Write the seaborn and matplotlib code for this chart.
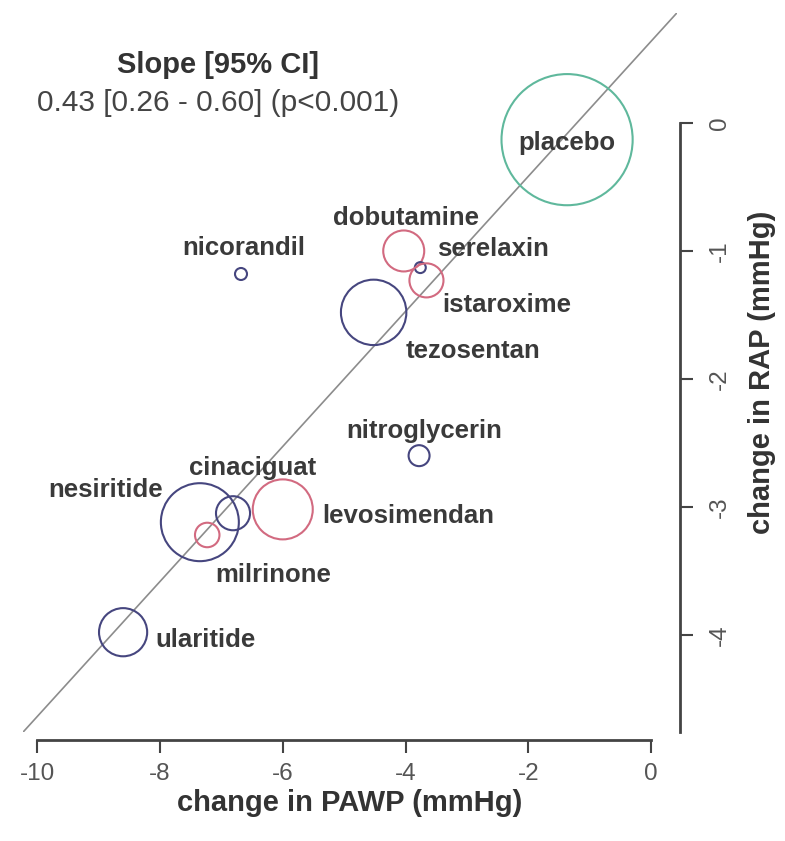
import pandas as pd
import matplotlib
matplotlib.use('Agg')
import matplotlib.pyplot as plt
import seaborn as sbn

# Data
drugs = ['placebo', 'dobutamine', 'serelaxin', 'istaroxime', 'tezosentan', 'nicorandil',
         'nitroglycerin', 'cinaciguat', 'nesiritide', 'milrinone', 'levosimendan', 'ularitide']
d_pawp = [-1.37, -4.03, -3.76, -3.66, -4.52, -6.68, -3.78, -6.81, -7.35, -7.23, -6.0, -8.6]
d_rap = [-0.13, -1.0, -1.13, -1.23, -1.48, -1.18, -2.6, -3.05, -3.12, -3.22, -3.02, -3.98]
group = ['placebo', 'inotrope', 'vasodilator', 'inotrope', 'vasodilator', 'vasodilator',
         'vasodilator', 'vasodilator', 'vasodilator', 'inotrope', 'inotrope', 'vasodilator']
weight = [4300, 420, 30, 290, 1070, 36, 110, 290, 1520, 150, 900, 580]

fit_slope = 0.528
fit_intercept = 0.64

df = pd.DataFrame({'drug': drugs, 'PAWP': d_pawp, 'RAP': d_rap, 'group': group, 'weight': weight})

palette = {'placebo': '#5fb89c', 'inotrope': '#d26a80', 'vasodilator': '#46467f'}

# label offsets in pixels (dx, dy up), alignment
label_pos = {
    'placebo': (0, -3, 'center'),
    'dobutamine': (2, 33, 'center'),
    'serelaxin': (17, 19, 'left'),
    'istaroxime': (16, -25, 'left'),
    'tezosentan': (32, -39, 'left'),
    'nicorandil': (3, 26, 'center'),
    'nitroglycerin': (5, 25, 'center'),
    'cinaciguat': (20, 45, 'center'),
    'nesiritide': (-37, 32, 'right'),
    'milrinone': (8, -40, 'left'),
    'levosimendan': (39, -7, 'left'),
    'ularitide': (32, -8, 'left'),
}

sbn.set_style('white')
plt.rcParams['font.family'] = ['Liberation Sans', 'DejaVu Sans']
plt.rcParams['axes.unicode_minus'] = False

fig = plt.figure(figsize=(7.85, 8.41), dpi=100)
ax = fig.add_axes([23 / 785, 1 - 732 / 841, 654 / 785, 719 / 841])

ax.axline((0, fit_intercept), slope=fit_slope, color='#8c8c8c', lw=1.2, zorder=1)

k = (2 * 0.72) ** 2  # px radius^2 -> points^2 area
sbn.scatterplot(data=df, x='PAWP', y='RAP', hue='group', palette=palette,
                size='weight', sizes=(k * min(weight), k * max(weight)),
                size_norm=(min(weight), max(weight)), legend=False, ax=ax, zorder=2)
pts = ax.collections[0]
fc = pts.get_facecolors()
pts.set_edgecolors(fc)
pts.set_facecolors('none')
pts.set_linewidth(1.5)

for name, x, y in zip(drugs, d_pawp, d_rap):
    dx, dy, ha = label_pos[name]
    ax.annotate(name, (x, y), xytext=(dx, dy), textcoords='offset pixels',
                ha=ha, va='center', fontsize=18.5, fontweight='bold', color='#3a3a3a')

ax.text(0.298, 0.928, 'Slope [95% CI]', transform=ax.transAxes, ha='center', va='center',
        fontsize=21, fontweight='bold', color='#333333')
ax.text(0.298, 0.875, '0.43 [0.26 - 0.60] (p<0.001)', transform=ax.transAxes, ha='center',
        va='center', fontsize=21.5, color='#444444')

ax.set_xlim(-10.23, 0.42)
ax.set_ylim(-4.76, 0.86)
ax.set_xticks([-10, -8, -6, -4, -2, 0])
ax.set_yticks([0, -1, -2, -3, -4])

for s in ['top', 'left']:
    ax.spines[s].set_visible(False)
ax.spines['bottom'].set_position(('outward', 6))
ax.spines['right'].set_position(('outward', 2))
ax.spines['bottom'].set_bounds(-10, 0)
ax.spines['right'].set_bounds(-4.76, 0)
for s in ['bottom', 'right']:
    ax.spines[s].set_color('#444444')
    ax.spines[s].set_linewidth(2)

ax.yaxis.tick_right()
ax.yaxis.set_label_position('right')
ax.tick_params(axis='both', which='major', length=9, width=1.5, color='#444444',
               labelsize=17.5, labelcolor='#555555', pad=7)
ax.tick_params(axis='x', bottom=True)
ax.tick_params(axis='y', right=True, left=False, pad=12)
for lab in ax.get_yticklabels():
    lab.set_rotation(90)
    lab.set_va('center')

ax.set_xlabel('change in PAWP (mmHg)', fontsize=21, fontweight='bold', color='#333333', labelpad=3)
ax.set_ylabel('change in RAP (mmHg)', fontsize=21, fontweight='bold', color='#333333',
              rotation=90, labelpad=12)

plt.savefig('out.png', dpi=100)
